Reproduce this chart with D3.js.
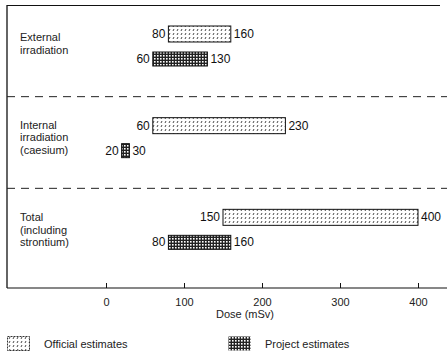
<!DOCTYPE html>
<html><head><meta charset="utf-8">
<script src="https://cdn.jsdelivr.net/npm/d3@7/dist/d3.min.js"></script>
<style>body{margin:0;background:#fff}svg{display:block}</style>
</head><body><div id="chart"></div>
<script>
const categories = ["External irradiation", "Internal irradiation (caesium)", "Total (including strontium)"];
const categoryLines = [["External", "irradiation"], ["Internal", "irradiation", "(caesium)"], ["Total", "(including", "strontium)"]];
const seriesNames = ["Official estimates", "Project estimates"];
const officialLow = [80, 60, 150];
const officialHigh = [160, 230, 400];
const projectLow = [60, 20, 80];
const projectHigh = [130, 30, 160];
const xTicks = [0, 100, 200, 300, 400];
const axisTitle = "Dose (mSv)";

const W = 447, H = 357;
const svg = d3.select("#chart").append("svg").attr("width", W).attr("height", H)
  .style("font-family", "'Liberation Sans', Arial, sans-serif");

const defs = svg.append("defs");
const pOff = defs.append("pattern").attr("id", "pOff").attr("patternUnits", "userSpaceOnUse")
  .attr("width", 4).attr("height", 4);
pOff.append("rect").attr("width", 4).attr("height", 4).attr("fill", "#fff");
pOff.append("path").attr("d", "M1,3 L2,1").attr("stroke", "#333").attr("stroke-width", 0.9);
const pProj = defs.append("pattern").attr("id", "pProj").attr("patternUnits", "userSpaceOnUse")
  .attr("width", 3).attr("height", 3);
pProj.append("rect").attr("width", 3).attr("height", 3).attr("fill", "#222");
pProj.append("rect").attr("x", 1).attr("y", 1).attr("width", 1.6).attr("height", 1.6).attr("fill", "#fff");

const x = d3.scaleLinear().domain([0, 400]).range([106, 418]);
const y = d3.scaleBand().domain(categories).range([5, 280]);
const axisY = 288, left = 7;

// frame
svg.append("line").attr("x1", left).attr("x2", left).attr("y1", 5).attr("y2", axisY).attr("stroke", "#111").attr("stroke-width", 1.3);
svg.append("line").attr("x1", left).attr("x2", 440).attr("y1", 5.5).attr("y2", 5.5).attr("stroke", "#111").attr("stroke-width", 1);

// separators
categories.slice(1).forEach(c => {
  svg.append("line").attr("x1", left).attr("x2", W).attr("y1", y(c)).attr("y2", y(c))
    .attr("stroke", "#222").attr("stroke-width", 1).attr("stroke-dasharray", "8,6");
});

// axis
const axis = d3.axisBottom(x).tickValues(xTicks).tickSize(-5).tickPadding(10).tickFormat(d3.format("d"));
const gA = svg.append("g").attr("transform", `translate(0,${axisY})`).call(axis);
gA.select(".domain").remove();
gA.append("line").attr("x1", left).attr("x2", W).attr("stroke", "#111").attr("stroke-width", 1.2);
gA.selectAll(".tick line").attr("stroke", "#111");
gA.selectAll(".tick text").attr("fill", "#222").style("font-size", "11px");
svg.append("text").attr("x", 245).attr("y", 318).attr("text-anchor", "middle").attr("fill", "#222")
  .style("font-size", "11px").text(axisTitle);

// category labels
const firstLineOffset = [36, 32, 33];
categories.forEach((c, i) => {
  const t = svg.append("text").attr("fill", "#222").style("font-size", "11px");
  categoryLines[i].forEach((ln, j) => {
    t.append("tspan").attr("x", 20).attr("y", y(c) + firstLineOffset[i] + j * 12.5).text(ln);
  });
});

// bars
const series = [
  {low: officialLow, high: officialHigh, fill: "url(#pOff)", off: 21, h: 16},
  {low: projectLow, high: projectHigh, fill: "url(#pProj)", off: 47, h: 14}
];
series.forEach(s => {
  categories.forEach((c, i) => {
    const y0 = y(c) + s.off;
    svg.append("rect").attr("x", x(s.low[i])).attr("y", y0)
      .attr("width", x(s.high[i]) - x(s.low[i])).attr("height", s.h)
      .attr("fill", s.fill).attr("stroke", "#111").attr("stroke-width", 1);
    svg.append("text").attr("x", x(s.low[i]) - 3).attr("y", y0 + s.h / 2 + 4)
      .attr("text-anchor", "end").attr("fill", "#111").style("font-size", "12px").text(s.low[i]);
    svg.append("text").attr("x", x(s.high[i]) + 3).attr("y", y0 + s.h / 2 + 4)
      .attr("fill", "#111").style("font-size", "12px").text(s.high[i]);
  });
});

// legend
const legX = [7, 228];
seriesNames.forEach((n, i) => {
  svg.append("rect").attr("x", legX[i] + 0.5).attr("y", 336.5).attr("width", 22).attr("height", 14)
    .attr("fill", series[i].fill).attr("stroke", i === 0 ? "#333" : "none").attr("stroke-dasharray", i === 0 ? "2,1" : null);
  svg.append("text").attr("x", legX[i] + 37).attr("y", 348).attr("fill", "#222")
    .style("font-size", "11px").text(n);
});
</script></body></html>
